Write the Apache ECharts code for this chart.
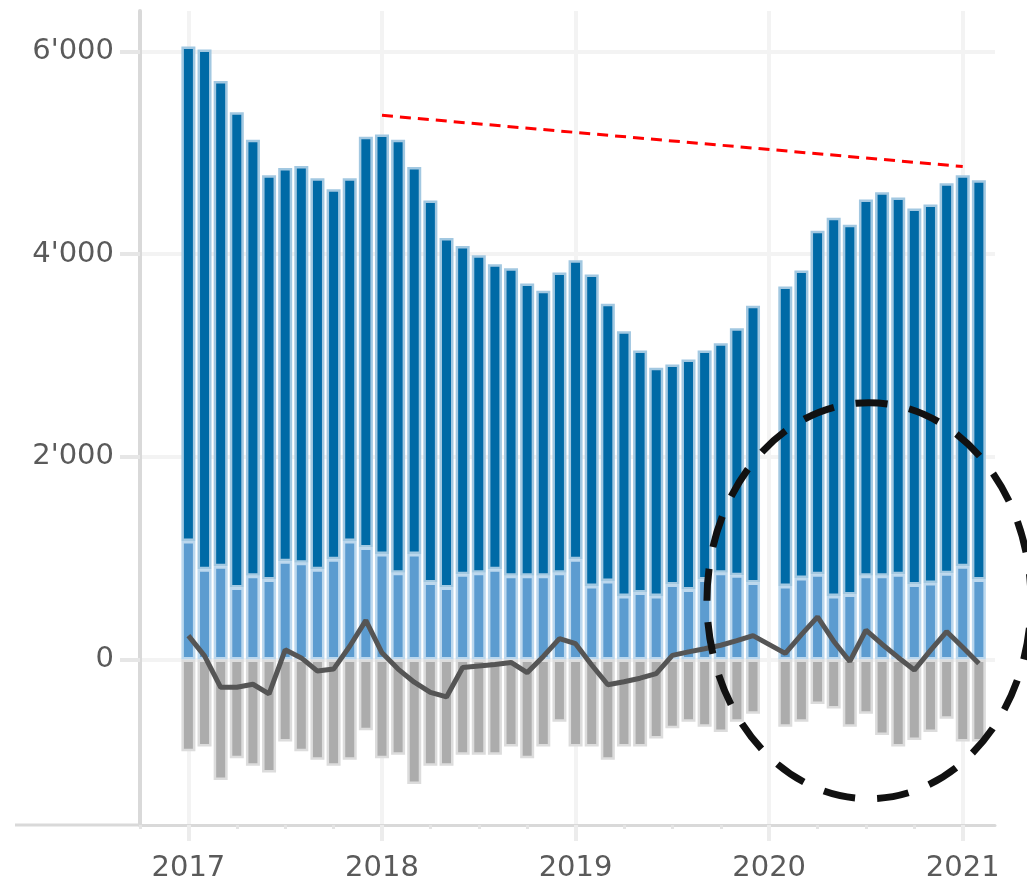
<!DOCTYPE html>
<html>
<head>
<meta charset="utf-8">
<title>Monthly flows 2017-2021</title>
<script src="https://cdn.jsdelivr.net/npm/echarts@6/dist/echarts.min.js"></script>
<style>
html, body { margin: 0; padding: 0; background: #fff; }
#chart { width: 1027px; height: 883px; }
</style>
</head>
<body>
<div id="chart"></div>
<script>
// months with bars (2020-01 has no data)
const months = [
  '2017-01', '2017-02', '2017-03', '2017-04', '2017-05', '2017-06', '2017-07', '2017-08', '2017-09', '2017-10', '2017-11', '2017-12',
  '2018-01', '2018-02', '2018-03', '2018-04', '2018-05', '2018-06', '2018-07', '2018-08', '2018-09', '2018-10', '2018-11', '2018-12',
  '2019-01', '2019-02', '2019-03', '2019-04', '2019-05', '2019-06', '2019-07', '2019-08', '2019-09', '2019-10', '2019-11', '2019-12',
  '2020-01', '2020-02', '2020-03', '2020-04', '2020-05', '2020-06', '2020-07', '2020-08', '2020-09', '2020-10', '2020-11', '2020-12',
  '2021-01', '2021-02'
]
// empty months that only widen the axis
const axisPadBefore = ['2016-10', '2016-11', '2016-12']
const axisPadAfter = ['2021-03']

// top of the stacked blue bar
const totalHeight = [
  6050, 6020, 5710, 5400, 5130, 4780, 4850, 4870, 4750, 4640, 4750, 5160,
  5180, 5130, 4860, 4530, 4160, 4080, 3990, 3900, 3860, 3710, 3640, 3820,
  3940, 3800, 3510, 3240, 3050, 2880, 2910, 2960, 3050, 3120, 3270, 3490,
  null, 3680, 3840, 4230, 4360, 4290, 4540, 4610, 4560, 4450, 4490, 4700,
  4780, 4730
]
// light blue part at the bottom
const inflow = [
  1170, 890, 920, 710, 825, 790, 970, 955, 890, 990, 1170, 1105,
  1040, 855, 1040, 760, 710, 840, 855, 890, 825, 825, 825, 855,
  990, 725, 775, 625, 660, 625, 740, 690, 790, 855, 830, 760,
  null, 725, 805, 840, 625, 640, 825, 825, 840, 740, 755, 850,
  920, 790
]
// grey bars below zero
const outflow = [
  -905, -860, -1190, -975, -1050, -1115, -810, -905, -990, -1050, -990, -700,
  -975, -940, -1230, -1050, -1050, -940, -940, -940, -860, -975, -860, -615,
  -860, -860, -990, -860, -860, -780, -680, -615, -665, -715, -615, -535,
  null, -665, -615, -440, -485, -665, -535, -745, -860, -795, -715, -585,
  -810, -810
]
// dark grey line
const net = [
  235, 35, -275, -275, -245, -340, 95, 15, -115, -95, 130, 385,
  65, -95, -225, -325, -370, -80, -65, -50, -30, -130, 30, 205,
  155, -55, -250, -220, -185, -140, 40, 75, 105, 140, 185, 235,
  null, 60, 245, 420, 180, -20, 290, 150, 20, -105, 90, 275,
  120, -40
]
// red dashed trend: [month, value] at both ends
const trendEnds = [['2018-01', 5370], ['2021-01', 4865]]
// centre of the dashed circle
const circleCenter = ['2020-07', 580]

const yTickValues = [0, 2000, 4000, 6000]
const yMin = -1634
const yMax = 6400

const axisMonths = axisPadBefore.concat(months, axisPadAfter)
const pad = arr => axisPadBefore.map(() => null).concat(arr, axisPadAfter.map(() => null))
const upperPart = totalHeight.map((t, i) => (t == null ? null : t - inflow[i]))
const isYear = (idx, val) => val.slice(5) === '01'
const isQuarter = (idx, val) => ['01', '04', '07', '10'].indexOf(val.slice(5)) >= 0
const fmt = v => String(v).replace(/\B(?=(\d{3})+(?!\d))/g, "'")

const labelFont = { color: '#5a5a5a', fontSize: 29, fontFamily: 'DejaVu Sans' }

const chart = echarts.init(document.getElementById('chart'))
chart.setOption({
  animation: false,
  grid: { left: 140, right: 32, top: 11, bottom: 55 },
  xAxis: [
    {
      type: 'category',
      data: axisMonths,
      boundaryGap: false,
      axisLine: { show: true, onZero: false, lineStyle: { color: '#d9d9d9', width: 3 } },
      axisTick: { show: true, interval: isQuarter, length: 4, lineStyle: { color: '#e4e4e4', width: 3 } },
      axisLabel: { show: false },
      splitLine: { show: false }
    },
    {
      type: 'category',
      data: axisMonths,
      boundaryGap: false,
      position: 'bottom',
      axisLine: { show: false, onZero: false },
      axisTick: { show: true, interval: isYear, length: 16, lineStyle: { color: '#ececec', width: 4 } },
      axisLabel: Object.assign({ show: true, interval: isYear, formatter: v => v.slice(0, 4), margin: 29 }, labelFont),
      splitLine: { show: true, interval: isYear, lineStyle: { color: '#f3f3f3', width: 4 } }
    }
  ],
  yAxis: {
    type: 'value',
    min: yMin,
    max: yMax,
    axisLine: { show: true, lineStyle: { color: '#d9d9d9', width: 4 } },
    axisTick: { show: true, customValues: yTickValues, length: 20, lineStyle: { color: '#e6e6e6', width: 4 } },
    axisLabel: Object.assign({ customValues: yTickValues, formatter: fmt, margin: 26 }, labelFont),
    splitLine: { show: true, lineStyle: { color: '#f3f3f3', width: 4 } }
  },
  series: [
    {
      name: 'inflow',
      type: 'bar',
      stack: 'flow',
      data: pad(inflow),
      barWidth: 14,
      itemStyle: { color: '#5c9cd0', borderColor: '#bcd8ee', borderWidth: 2.5 }
    },
    {
      name: 'upper',
      type: 'bar',
      stack: 'flow',
      data: pad(upperPart),
      barWidth: 14,
      itemStyle: { color: '#006aa6', borderColor: '#a2c8e1', borderWidth: 2.5 },
      markLine: {
        silent: true,
        symbol: 'none',
        label: { show: false },
        lineStyle: { color: '#ff0000', type: [11, 7], width: 3 },
        data: [[{ coord: trendEnds[0] }, { coord: trendEnds[1] }]]
      }
    },
    {
      name: 'outflow',
      type: 'bar',
      stack: 'flow',
      data: pad(outflow),
      barWidth: 14,
      itemStyle: { color: '#acacac', borderColor: '#dcdcdc', borderWidth: 2.5 }
    },
    {
      name: 'net',
      type: 'line',
      data: pad(net),
      connectNulls: true,
      symbol: 'none',
      z: 5,
      lineStyle: { color: '#555555', width: 5 }
    }
  ]
})

// annotation circle and the axis line running left under the labels
const c = chart.convertToPixel({ xAxisIndex: 0, yAxisIndex: 0 }, circleCenter)
const base = chart.convertToPixel({ xAxisIndex: 0, yAxisIndex: 0 }, [axisMonths[0], yMin])
chart.setOption({
  graphic: [
    {
      type: 'line',
      silent: true,
      shape: { x1: 15, y1: base[1], x2: base[0], y2: base[1] },
      style: { stroke: '#d9d9d9', lineWidth: 3 }
    },
    {
      type: 'ellipse',
      silent: true,
      z: 100,
      shape: { cx: c[0] + 3, cy: c[1], rx: 162, ry: 198 },
      style: { fill: 'none', stroke: '#111111', lineWidth: 7, lineDash: [32, 22] }
    }
  ]
})
</script>
</body>
</html>
